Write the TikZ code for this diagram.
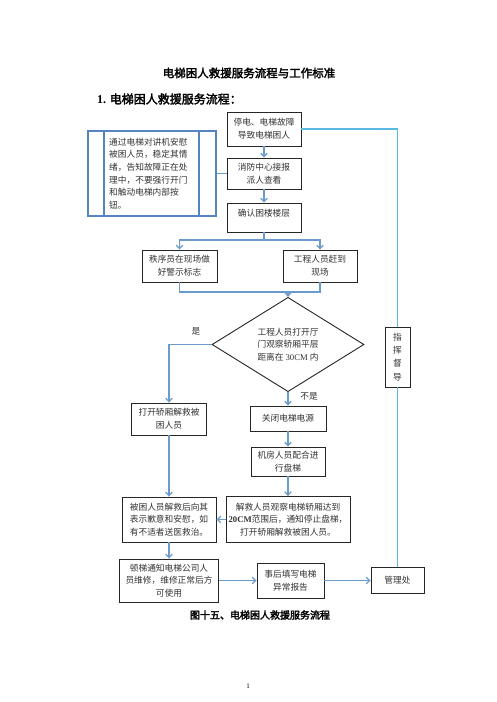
\documentclass[tikz,border=0pt]{standalone}
\usepackage{fontspec}
\setmainfont{Liberation Serif}
\newfontfamily\cjk{Noto Sans CJK SC}
\newfontfamily\cjkb[FakeBold=2.5]{Noto Sans CJK SC}
\newfontfamily\lat{Liberation Serif}
\usetikzlibrary{arrows.meta,shapes.geometric}
\definecolor{lnblue}{HTML}{6A9BCB}
\definecolor{cyanl}{HTML}{5BB8E2}
\definecolor{bxblue}{HTML}{5585C0}
\begin{document}
\begin{tikzpicture}[x=1pt,y=-1pt,
  box/.style={draw=black!85, line width=0.9pt, fill=white, align=center,
    font=\cjk\fontsize{8.7}{12.7}\selectfont, text=black!80, inner sep=0pt},
  conn/.style={draw=lnblue, line width=1.2pt},
  arr/.style={conn, -{Straight Barb[length=3.5pt,width=6.5pt]}},
  cyanline/.style={draw=cyanl, line width=1.3pt},
  lbl/.style={font=\cjk\fontsize{8.7}{12.7}\selectfont, text=black!80, inner sep=0pt}]
\useasboundingbox (0,0) rectangle (496,702);
\fill[white] (0,0) rectangle (496,702);

% titles
\node[font=\cjkb\fontsize{11.5}{14}\selectfont] (title) at (249,73) {电梯困人救援服务流程与工作标准};
\node[anchor=west, font=\cjkb\fontsize{12}{14}\selectfont, inner sep=0pt] (head) at (97,99) {{\lat\bfseries 1.} 电梯困人救援服务流程：};
\node[font=\cjkb\fontsize{10}{12}\selectfont] (cap) at (260,615) {图十五、电梯困人救援服务流程};
\node[font=\lat\fontsize{7}{8}\selectfont] (pg) at (248,686) {1};

% left note box
\node[draw=bxblue, line width=1.1pt, minimum width=128pt, minimum height=85pt, inner sep=0pt] (P) at (152,173.5) {};
\draw[bxblue, line width=1.1pt] (104,131) -- (104,216);
\draw[bxblue, line width=1.1pt] (199,131) -- (199,216);
\node[lbl, anchor=west, align=left] (Ptext) at (109,173.5) {通过电梯对讲机安慰\\被困人员，稳定其情\\绪，告知故障正在处\\理中，不要强行开门\\和触动电梯内部按\\钮。};

% main boxes
\node[box, minimum width=74pt, minimum height=34pt] (A) at (264,129) {停电、电梯故障\\导致电梯困人};
\node[box, minimum width=74pt, minimum height=31pt] (B) at (264,173.5) {消防中心接报\\派人查看};
\node[box, minimum width=74pt, minimum height=29pt] (C) at (264,217.5) {};
\node[lbl] (Ctext) at (264,213) {确认困楼楼层};
\node[box, minimum width=75pt, minimum height=32pt] (D) at (179.5,266) {秩序员在现场做\\好警示标志};
\node[box, minimum width=74pt, minimum height=32pt] (E) at (320,266) {工程人员赶到\\现场};
\node[box, diamond, minimum width=152pt, minimum height=85pt] (Q) at (288,344.5) {工程人员打开厅\\门观察轿厢平层\\距离在 {\lat 30CM} 内};
\node[box, minimum width=75pt, minimum height=32pt] (F) at (169,419) {打开轿厢解救被\\困人员};
\node[box, minimum width=76pt, minimum height=25pt] (G) at (288,418.5) {关闭电梯电源};
\node[box, minimum width=74pt, minimum height=29pt] (H) at (288,461.5) {机房人员配合进\\行盘梯};
\node[box, minimum width=124pt, minimum height=46pt] (J) at (288,519.5) {解救人员观察电梯轿厢达到\\{\lat\bfseries 20CM}范围后，通知停止盘梯，\\打开轿厢解救被困人员。};
\node[box, minimum width=94pt, minimum height=45pt] (I) at (169,519.5) {被困人员解救后向其\\表示歉意和安慰，如\\有不适者送医救治。};
\node[box, minimum width=99pt, minimum height=43pt] (K) at (169,580.5) {顿梯通知电梯公司人\\员维修，维修正常后方\\可使用};
\node[box, minimum width=67pt, minimum height=35pt] (L) at (290.5,580.5) {事后填写电梯\\异常报告};
\node[box, minimum width=53pt, minimum height=26pt] (M) at (397.5,580.5) {管理处};
\node[box, minimum width=25pt, minimum height=60pt, font=\cjk\fontsize{8.7}{13.3}\selectfont] (Z) at (397.5,357) {指\\挥\\督\\导};

% labels
\node[lbl] (yes) at (196,331) {是};
\node[lbl] (no) at (309,396) {不是};

% connectors
\draw[conn] (P.east) -- (B.west);
\draw[arr] (A.south) -- (B.north);
\draw[arr] (B.south) -- (C.north);
\coordinate (c1) at (264,240);
\draw[arr] (C.south) -- (c1) -| (D.north);
\draw[arr] (c1) -| (E.north);
\coordinate (j) at (288,292);
\draw[conn] (D.south) |- (j) -| (E.south);
\draw[arr] (j) -- (Q.north);
\draw[arr] (Q.west) -| (F.north);
\draw[arr] (Q.south) -- (G.north);
\draw[arr] (G.south) -- (H.north);
\draw[arr] (H.south) -- (J.north);
\draw[arr] (J.west) -- (I.east);
\draw[arr] (F.south) -- (I.north);
\draw[arr] (I.south) -- (K.north);
\draw[arr] (K.east) -- (L.west);
\draw[arr] (L.east) -- (M.west);
\draw[cyanline] (A.east) -| (Z.north);
\draw[cyanline] (Z.south) -- (M.north);
\end{tikzpicture}
\end{document}
